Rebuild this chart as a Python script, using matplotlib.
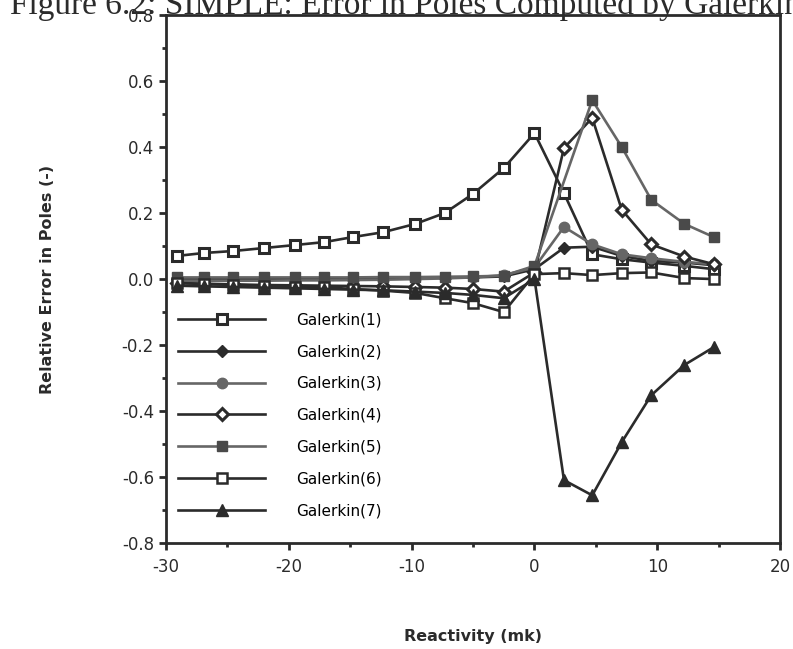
import matplotlib
matplotlib.use("Agg")
import matplotlib.pyplot as plt
from matplotlib.ticker import MultipleLocator

# reactivity points (mk)
x_all = [-29.1, -26.9, -24.5, -22.0, -19.5, -17.1, -14.8, -12.3, -9.7, -7.3,
         -5.0, -2.5, 0.0, 2.4, 4.7, 7.1, 9.5, 12.2, 14.6]
x_g5 = [-29.1, -26.9, -24.5, -22.0, -19.5, -17.1, -14.8, -12.3, -9.7, -7.3,
        -5.0, -2.5, 0.0, 4.7, 7.1, 9.5, 12.2, 14.6]

g1 = [0.070, 0.079, 0.085, 0.094, 0.103, 0.112, 0.127, 0.142, 0.167, 0.200,
      0.258, 0.336, 0.442, 0.260, 0.075, 0.060, 0.050, 0.040, 0.030]
g2 = [0.000, 0.000, 0.000, 0.000, 0.000, 0.000, 0.000, 0.002, 0.003, 0.004,
      0.005, 0.008, 0.030, 0.095, 0.098, 0.070, 0.055, 0.050, 0.042]
g3 = [-0.005, -0.005, -0.005, -0.005, -0.004, -0.004, -0.003, -0.002, 0.000, 0.002,
      0.005, 0.012, 0.035, 0.158, 0.105, 0.075, 0.063, 0.052, 0.045]
g4 = [-0.012, -0.014, -0.016, -0.018, -0.019, -0.020, -0.021, -0.022, -0.024, -0.026,
      -0.030, -0.038, 0.020, 0.397, 0.488, 0.210, 0.105, 0.068, 0.045]
g5 = [0.005, 0.005, 0.005, 0.005, 0.005, 0.005, 0.005, 0.006, 0.006, 0.007,
      0.008, 0.010, 0.040, 0.542, 0.400, 0.240, 0.167, 0.127]
g6 = [-0.012, -0.015, -0.018, -0.020, -0.024, -0.025, -0.030, -0.035, -0.042, -0.058,
      -0.073, -0.100, 0.015, 0.018, 0.012, 0.018, 0.020, 0.003, 0.000]
g7 = [-0.020, -0.022, -0.024, -0.026, -0.028, -0.030, -0.032, -0.034, -0.038, -0.042,
      -0.048, -0.058, 0.000, -0.609, -0.655, -0.494, -0.352, -0.260, -0.206]

labels = ["Galerkin(1)", "Galerkin(2)", "Galerkin(3)", "Galerkin(4)",
          "Galerkin(5)", "Galerkin(6)", "Galerkin(7)"]

dark = "#2b2b2b"
grey = "#666666"

fig = plt.figure(figsize=(7.93, 6.49), dpi=100)
ax = fig.add_axes([0.209, 0.163, 0.775, 0.814])

lw = 1.9
ax.plot(x_all, g1, color=dark, lw=lw, marker="s", ms=6.5, mfc="white", mec=dark, mew=2.2, label=labels[0])
ax.plot(x_all, g2, color=dark, lw=lw, marker="D", ms=6, mfc=dark, mec=dark, label=labels[1])
ax.plot(x_all, g3, color=grey, lw=lw, marker="o", ms=7.5, mfc=grey, mec=grey, label=labels[2])
ax.plot(x_all, g4, color=dark, lw=lw, marker="D", ms=6, mfc="white", mec=dark, mew=2.2, label=labels[3])
ax.plot(x_g5, g5, color=grey, lw=lw, marker="s", ms=7, mfc="#4a4a4a", mec="#4a4a4a", label=labels[4])
ax.plot(x_all, g6, color=dark, lw=lw, marker="s", ms=7, mfc="white", mec=dark, mew=1.8, label=labels[5])
ax.plot(x_all, g7, color=dark, lw=lw, marker="^", ms=8, mfc=dark, mec=dark, label=labels[6])

ax.set_xlim(-30, 20)
ax.set_ylim(-0.8, 0.8)
ax.xaxis.set_major_locator(MultipleLocator(10))
ax.xaxis.set_minor_locator(MultipleLocator(5))
ax.yaxis.set_major_locator(MultipleLocator(0.2))
ax.yaxis.set_minor_locator(MultipleLocator(0.1))
ax.yaxis.set_major_formatter(plt.FuncFormatter(lambda v, p: f"{v:.1f}"))
ax.xaxis.set_major_formatter(plt.FuncFormatter(lambda v, p: f"{v:.0f}"))

for s in ax.spines.values():
    s.set_linewidth(2)
    s.set_color(dark)
ax.tick_params(which="major", direction="out", length=5, width=2, labelsize=12, colors=dark)
ax.tick_params(which="minor", direction="out", length=3, width=2, colors=dark)
ax.tick_params(axis="x", pad=6)

ax.set_xlabel("Reactivity (mk)", fontsize=11.5, fontweight="bold", labelpad=38, color=dark)
ax.set_ylabel("Relative Error in Poles (-)", fontsize=11.5, fontweight="bold", labelpad=48, color=dark)

ax.legend(loc="upper left", bbox_to_anchor=(0.02, 0.437), frameon=False,
          fontsize=11, handlelength=5.7, handletextpad=2.0, labelspacing=1.1,
          borderpad=0, borderaxespad=0)

# page caption above the plot, running off the top and right edges
fig.text(0.013, 1 - 14 / 649, "Figure 6.2: SIMPLE: Error in Poles Computed by Galerkin",
         fontsize=24, family="Liberation Serif", va="baseline", color=dark)

fig.savefig("out.png", dpi=100)
